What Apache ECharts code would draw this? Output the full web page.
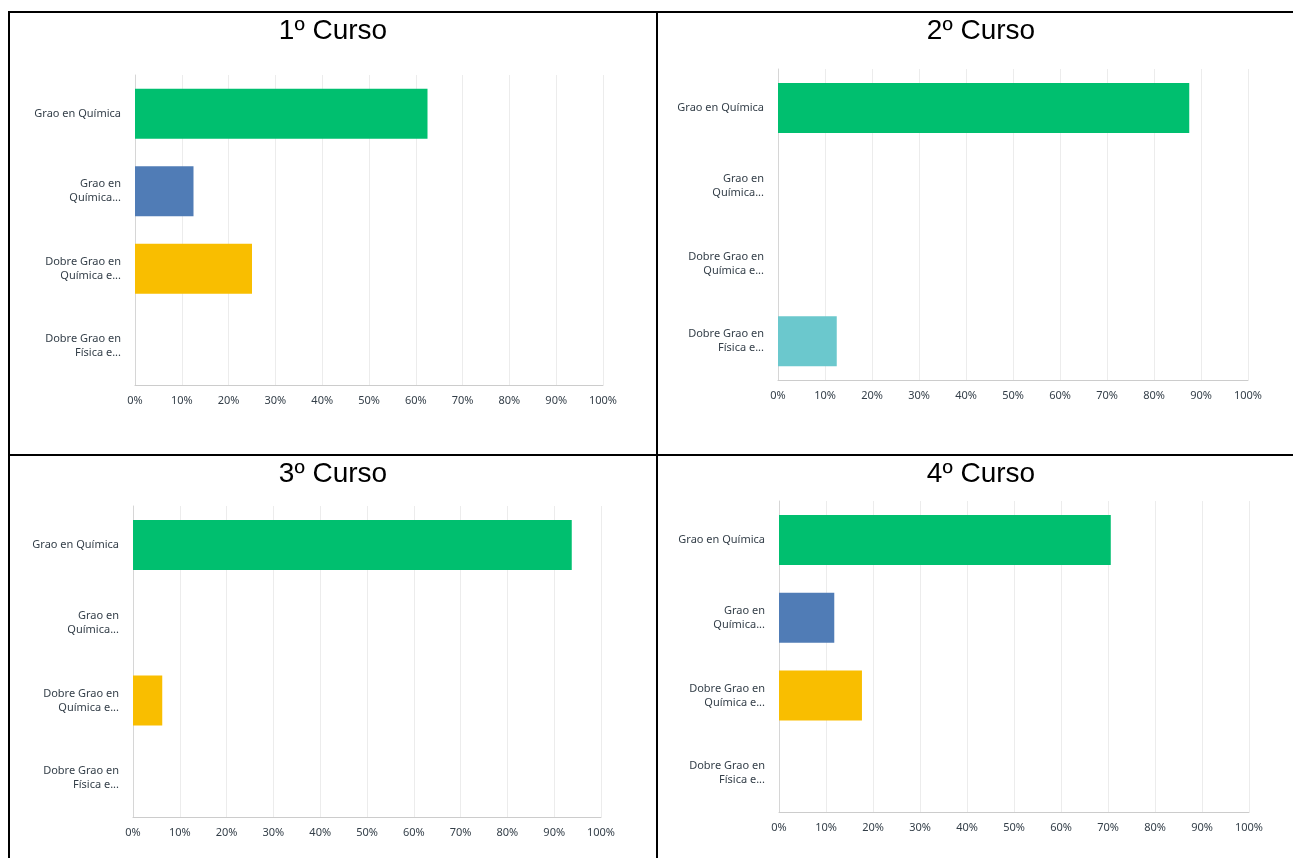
<!DOCTYPE html>
<html>
<head>
<meta charset="utf-8">
<script src="https://cdn.jsdelivr.net/npm/echarts@6/dist/echarts.min.js"></script>
<style>
html,body{margin:0;padding:0;background:#fff;}
#chart{width:1293px;height:858px;}
</style>
</head>
<body>
<div id="chart"></div>
<script>
// ---- data ----
var categories = ['Grao en Química', 'Grao en\nQuímica...', 'Dobre Grao en\nQuímica e...', 'Dobre Grao en\nFísica e...'];
var titles = ['1º Curso', '2º Curso', '3º Curso', '4º Curso'];
var curso1 = [62.5, 12.5, 25, 0];
var curso2 = [87.5, 0, 0, 12.5];
var curso3 = [93.75, 0, 6.25, 0];
var curso4 = [70.59, 11.76, 17.65, 0];
var barColors = ['#00BF6F', '#507CB6', '#F9BE00', '#6BC8CD'];

var allData = [curso1, curso2, curso3, curso4];

// ---- layout ----
var grids = [
  {left: 135, top: 75, width: 468, height: 310},
  {left: 778, top: 69, width: 470, height: 311},
  {left: 133, top: 506, width: 468, height: 311},
  {left: 779, top: 501, width: 470, height: 311}
];
var titlePos = [[333, 12], [981, 12], [333, 455], [981, 455]];

var chart = echarts.init(document.getElementById('chart'), null, {renderer: 'canvas'});

var labelColor = '#333e48';
var fontFam = '"Noto Sans", "Open Sans", sans-serif';

var option = {
  backgroundColor: '#ffffff',
  animation: false,
  title: titles.map(function (t, i) {
    return {
      text: t,
      left: titlePos[i][0] - 5,
      top: titlePos[i][1],
      textAlign: 'center',
      textStyle: {fontFamily: '"Liberation Sans", Arial, sans-serif', fontSize: 28, fontWeight: 'normal', color: '#000'}
    };
  }),
  grid: grids.map(function (g) { return Object.assign({containLabel: false}, g); }),
  xAxis: grids.map(function (g, i) {
    return {
      type: 'value', gridIndex: i, min: 0, max: 100, interval: 10,
      axisLine: {show: true, lineStyle: {color: '#cccccc', width: 1}},
      axisTick: {show: false},
      splitLine: {show: true, lineStyle: {color: '#ececec', width: 1}},
      axisLabel: {formatter: '{value}%', color: labelColor, fontSize: 11, fontFamily: fontFam, margin: 10}
    };
  }),
  yAxis: grids.map(function (g, i) {
    return {
      type: 'category', gridIndex: i, data: categories, inverse: true,
      axisLine: {show: true, lineStyle: {color: '#d6d6d6', width: 1}},
      axisTick: {show: false},
      splitLine: {show: false},
      axisLabel: {color: labelColor, fontSize: 11, fontFamily: fontFam, margin: 14, lineHeight: 14, align: 'right'}
    };
  }),
  series: allData.map(function (d, i) {
    return {
      type: 'bar', xAxisIndex: i, yAxisIndex: i, barWidth: 50,
      data: d.map(function (v, j) { return {value: v, itemStyle: {color: barColors[j]}}; })
    };
  }),
  graphic: [
    {type: 'line', shape: {x1: 9, y1: 12, x2: 1293, y2: 12}, style: {stroke: '#000', lineWidth: 2}},
    {type: 'line', shape: {x1: 9, y1: 11, x2: 9, y2: 858}, style: {stroke: '#000', lineWidth: 2}},
    {type: 'line', shape: {x1: 657, y1: 11, x2: 657, y2: 858}, style: {stroke: '#000', lineWidth: 2}},
    {type: 'line', shape: {x1: 9, y1: 455, x2: 1293, y2: 455}, style: {stroke: '#000', lineWidth: 2}}
  ]
};
chart.setOption(option);
</script>
</body>
</html>
